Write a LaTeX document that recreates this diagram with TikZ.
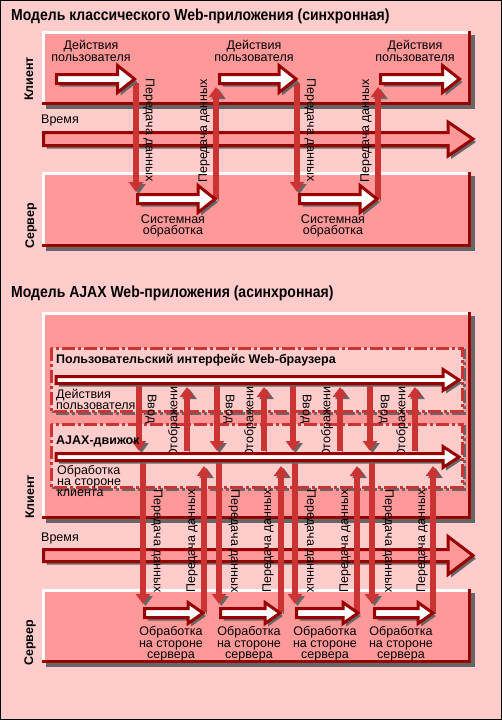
\documentclass[tikz,border=0pt]{standalone}
\usepackage{fontspec}
\setmainfont{Liberation Sans}
\newfontfamily\titlef[FakeStretch=0.875]{Liberation Sans}
\usetikzlibrary{arrows.meta}
\definecolor{bgpink}{HTML}{FFCCCC}
\definecolor{boxpink}{HTML}{FF9999}
\definecolor{dred}{HTML}{990000}
\definecolor{mred}{HTML}{CC3333}
\definecolor{shgrey}{HTML}{666666}
\newcommand\bevelbox[4]{%
  \fill[shgrey] ({#1+4},{#2+4}) rectangle ({#3+4},{#4+4});
  \fill[boxpink] (#1,#2) rectangle (#3,#4);
  \draw[dred, line width=3pt] (#1,{#4-1.5}) -- ({#3-1.5},{#4-1.5}) -- ({#3-1.5},#2);
  \draw[white, line width=3pt] ({#1+1.5},{#4-3}) -- ({#1+1.5},{#2+1.5}) -- ({#3-3},{#2+1.5});
}
\newcommand\arrpoly[6]{(#1,{#3-#4}) -- ({#2-#6},{#3-#4}) -- ({#2-#6},{#3-#5}) -- (#2,#3) -- ({#2-#6},{#3+#5}) -- ({#2-#6},{#3+#4}) -- (#1,{#3+#4}) -- cycle}
\newcommand\harrow[6]{%
  \fill[shgrey, shift={(3,3)}] \arrpoly{#1}{#2}{#3}{#4}{#5}{#6};
  \filldraw[fill=white, draw=dred, line width=3pt, line join=miter] \arrpoly{#1}{#2}{#3}{#4}{#5}{#6};
}
\newcommand\timearrow[6]{%
  \fill[shgrey, shift={(3,3)}] \arrpoly{#1}{#2}{#3}{#4}{#5}{#6};
  \filldraw[fill=boxpink, draw=dred, line width=3pt, line join=miter] \arrpoly{#1}{#2}{#3}{#4}{#5}{#6};
}
\newcommand\dashedpanel[4]{%
  \filldraw[fill=bgpink, draw=shgrey, line width=3pt, dash pattern=on 13pt off 3pt on 3pt off 3pt, shift={(2,2)}] (#1,#2) rectangle (#3,#4);
  \filldraw[fill=bgpink, draw=mred, line width=3pt, dash pattern=on 13pt off 3pt on 3pt off 3pt] (#1,#2) rectangle (#3,#4);
}
\tikzset{
  lbl/.style={font=\fontsize{12.5}{11.5}\selectfont, inner sep=0pt, align=center},
  lbll/.style={font=\fontsize{12.5}{11}\selectfont, inner sep=0pt, align=left},
  bl/.style={font=\fontsize{12.5}{12}\selectfont\bfseries, inner sep=0pt},
  ttl/.style={font=\fontsize{16}{16}\selectfont\titlef\bfseries, inner sep=0pt, anchor=west},
  vconn/.style={mred, line width=5.5pt, -{Triangle[length=10pt,width=14pt]},
     preaction={draw=shgrey, transform canvas={shift={(2.5pt,-2pt)}}}},
}
\begin{document}
\begin{tikzpicture}[x=1pt,y=-1pt]
\useasboundingbox (0,0) rectangle (502,720);
\fill[bgpink] (0,0) rectangle (502,720);
\draw[black, line width=1pt] (0.5,0.5) rectangle (501.5,719.5);

% ===================== TOP: classic model =====================
\node[ttl] (t1) at (11,16) {Модель классического Web-приложения (синхронная)};
\bevelbox{42}{31}{471}{105}
\bevelbox{42}{172}{471}{247}
\node[bl, rotate=90] (k1) at (29,79) {Клиент};
\node[bl, rotate=90] (s1lbl) at (31,226) {Сервер};
\node[lbl, anchor=west] (time1) at (41,120) {Время};
\timearrow{43.5}{473}{139}{6.5}{17}{25}

% connectors
\coordinate (v1a) at (136,83);  \coordinate (v1b) at (136,192);
\coordinate (v2a) at (216,199); \coordinate (v2b) at (216,87);
\coordinate (v3a) at (297,83);  \coordinate (v3b) at (297,192);
\coordinate (v4a) at (378,199); \coordinate (v4b) at (378,87);
\draw[vconn] (v1a) -- (v1b);
\draw[vconn] (v2a) -- (v2b);
\draw[vconn] (v3a) -- (v3b);
\draw[vconn] (v4a) -- (v4b);
\node[lbl, rotate=-90] (l1) at (149,130) {Передача данных};
\node[lbl, rotate=90]  (l2) at (204,131) {Передача данных};
\node[lbl, rotate=-90] (l3) at (310,130) {Передача данных};
\node[lbl, rotate=90]  (l4) at (366,131) {Передача данных};

% user action arrows
\harrow{56.5}{134.5}{79}{4.5}{13.5}{17}
\harrow{219.5}{296}{79}{4.5}{13.5}{17}
\harrow{380.5}{459.5}{79}{4.5}{13.5}{17}
\node[lbl] (ua1) at (91,51) {Действия\\пользователя};
\node[lbl] (ua2) at (254,51) {Действия\\пользователя};
\node[lbl] (ua3) at (415,51) {Действия\\пользователя};
% server arrows
\harrow{137.5}{215}{199}{4.5}{13.5}{17}
\harrow{299.5}{377}{199}{4.5}{13.5}{17}
\node[lbl] (sp1) at (173,226) {Системная\\обработка};
\node[lbl] (sp2) at (333,226) {Системная\\обработка};

% ===================== BOTTOM: AJAX model =====================
\node[ttl] (t2) at (11,293) {Модель AJAX Web-приложения (асинхронная)};
\bevelbox{42}{312}{471}{519}
\bevelbox{42}{589}{471}{663}
\node[bl, rotate=90] (k2) at (30,497) {Клиент};
\node[bl, rotate=90] (s2lbl) at (30,643) {Сервер};
\dashedpanel{51}{348}{462}{411}
\dashedpanel{51}{424}{462}{487}
\node[lbl, anchor=west] (time2) at (41,538) {Время};
\timearrow{43.5}{473}{555.5}{6}{19}{25}

% UI <-> AJAX connectors
\foreach \x [count=\i] in {139,217,293,370} {
  \coordinate (in\i a) at (\x,386); \coordinate (in\i b) at (\x,451);
  \draw[vconn] (in\i a) -- (in\i b);
}
\foreach \x [count=\i] in {187,264,340,415} {
  \coordinate (out\i a) at (\x,451); \coordinate (out\i b) at (\x,387);
  \draw[vconn] (out\i a) -- (out\i b);
}
% AJAX <-> server connectors
\foreach \x [count=\i] in {143,219,295,372} {
  \coordinate (sd\i a) at (\x,463); \coordinate (sd\i b) at (\x,604);
  \draw[vconn] (sd\i a) -- (sd\i b);
}
\foreach \x [count=\i] in {204,281,357,433} {
  \coordinate (su\i a) at (\x,612); \coordinate (su\i b) at (\x,466);
  \draw[vconn] (su\i a) -- (su\i b);
}
\foreach \x [count=\i] in {151,229,306,384} \node[lbl, rotate=-90] (vin\i) at (\x,409) {Ввод};
\foreach \x [count=\i] in {174,250,327,402} \node[lbl, rotate=90] (vout\i) at (\x,419) {Отображение};
\foreach \x [count=\i] in {157,234,310,388} \node[lbl, rotate=-90] (pd\i) at (\x,541) {Передача данных};
\foreach \x [count=\i] in {192,268,345,422} \node[lbl, rotate=90] (pu\i) at (\x,541) {Передача данных};

% block arrows
\harrow{56}{459}{380}{3.5}{10.5}{16}
\harrow{56}{459}{457}{3.5}{10.5}{16}
\node[bl, anchor=west] (ui) at (56,360) {Пользовательский интерфейс Web-браузера};
\node[lbll, anchor=north west] (uia) at (56,389) {Действия\\пользователя};
\node[bl, anchor=west] (aj) at (56,441) {AJAX-движок};
\node[lbll, anchor=north west] (ajp) at (57,465) {Обработка\\на стороне\\клиента};

\harrow{144.5}{203}{613}{4.5}{10.5}{15}
\harrow{220.5}{280}{613}{4.5}{10.5}{15}
\harrow{296.5}{358}{613}{4.5}{10.5}{15}
\harrow{374.5}{433}{613}{4.5}{10.5}{15}
\foreach \x [count=\i] in {171,249,325,401} \node[lbl] (sv\i) at (\x,644) {Обработка\\на стороне\\сервера};
\end{tikzpicture}
\end{document}
